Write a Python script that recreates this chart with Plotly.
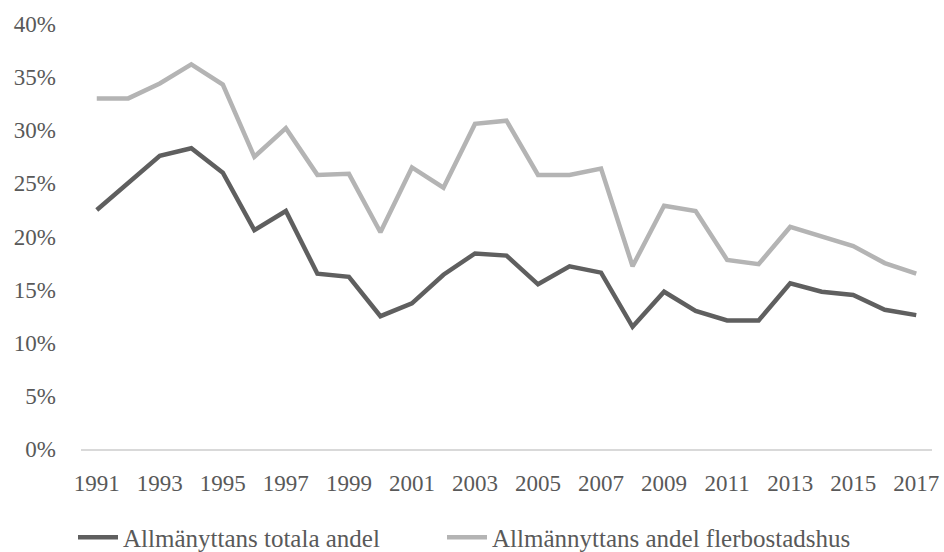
import plotly.graph_objects as go

years = [str(y) for y in range(1991, 2018)]
tick_labels = [str(y) for y in range(1991, 2018, 2)]

totala_andel = [22.5, 25.1, 27.6, 28.3, 26.0, 20.6, 22.4, 16.5, 16.2, 12.5,
                13.7, 16.4, 18.4, 18.2, 15.5, 17.2, 16.6, 11.5, 14.8, 13.0,
                12.1, 12.1, 15.6, 14.8, 14.5, 13.1, 12.6]
flerbostadshus = [33.0, 33.0, 34.4, 36.2, 34.3, 27.5, 30.2, 25.8, 25.9, 20.4,
                  26.5, 24.6, 30.6, 30.9, 25.8, 25.8, 26.4, 17.2, 22.9, 22.4,
                  17.8, 17.4, 20.9, 20.0, 19.1, 17.5, 16.5]

name_total = "Allmänyttans totala andel"
name_fler = "Allmännyttans andel flerbostadshus"

font_family = "Liberation Serif, Times New Roman, serif"
text_color = "#595959"

fig = go.Figure()
fig.add_trace(go.Scatter(
    x=years, y=[v / 100 for v in totala_andel], mode="lines", name=name_total,
    line=dict(color="#5f5f5f", width=4.5), legend="legend",
))
fig.add_trace(go.Scatter(
    x=years, y=[v / 100 for v in flerbostadshus], mode="lines", name=name_fler,
    line=dict(color="#b4b4b4", width=4.5), legend="legend2",
))

legend_common = dict(
    orientation="h", xref="container", yref="paper",
    xanchor="left", y=-0.208, yanchor="middle",
    font=dict(size=25, color=text_color),
    itemwidth=40, tracegroupgap=0, bgcolor="rgba(0,0,0,0)",
)

fig.update_layout(
    width=944, height=552,
    margin=dict(l=81, r=12, t=24, b=103, autoexpand=False),
    paper_bgcolor="white", plot_bgcolor="white",
    font=dict(family=font_family, size=23, color=text_color),
    showlegend=True,
    legend=dict(x=73 / 944, **legend_common),
    legend2=dict(x=442 / 944, **legend_common),
)
fig.update_xaxes(
    type="category", range=[-0.5, 26.5], tickmode="array",
    tickvals=tick_labels, ticktext=tick_labels, automargin=False,
    showgrid=False, zeroline=False, showline=True, linecolor="#d9d9d9", linewidth=1.5,
    ticks="", ticklabelstandoff=13,
)
fig.update_yaxes(
    range=[0, 0.4], tickvals=[i * 0.05 for i in range(9)], tickformat=".0%",
    automargin=False,
    showgrid=False, zeroline=False, showline=False, ticks="", ticklabelstandoff=24,
)

fig.write_html(
    "out.html",
    config={"displayModeBar": False},
    post_script="document.body.style.margin='0';document.body.style.overflow='hidden';",
)
